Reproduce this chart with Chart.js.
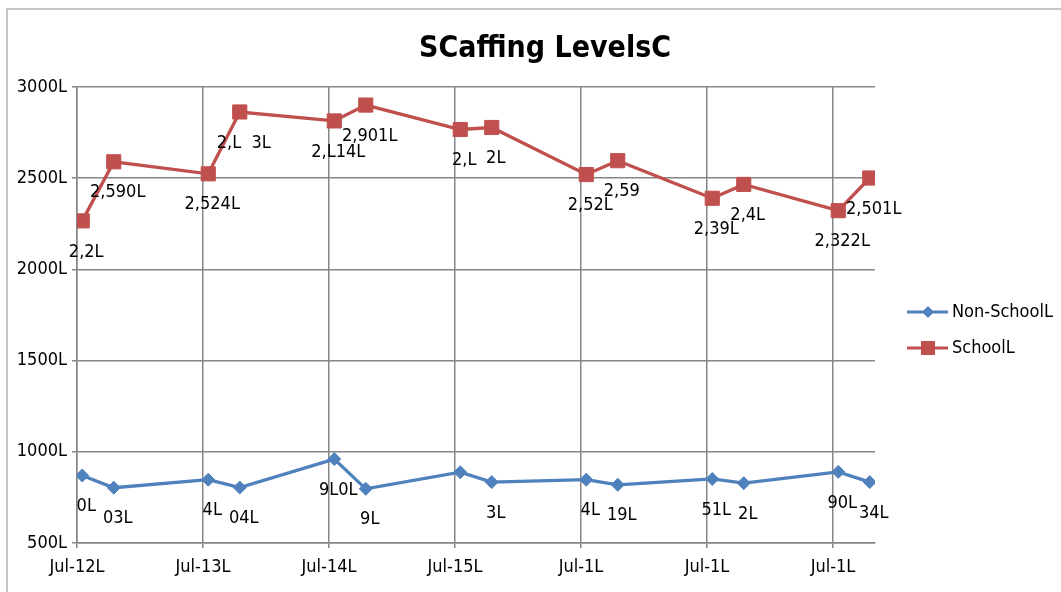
<!DOCTYPE html>
<html>
<head>
    <title>Staffing Levels</title>
    <style>
        body {
            margin: 0;
            background: #ffffff;
        }
        #frame {
            position: absolute;
            left: 6px;
            top: 8px;
            width: 1100px;
            height: 700px;
            border: 2px solid #c6c6c6;
        }
        #chart-container {
            position: absolute;
            left: 0;
            top: 0;
            width: 1061px;
            height: 592px;
        }
    </style>
    <script src="https://cdn.jsdelivr.net/npm/chart.js"></script>
</head>
<body>
    <div id="frame"></div>
    <div id="chart-container">
        <canvas id="chart" width="1061" height="592"></canvas>
    </div>
    <script>
        // two readings a year, mid July and mid October
        const pointDates = [
            '2012-07-16', '2012-10-16', '2013-07-16', '2013-10-16',
            '2014-07-16', '2014-10-16', '2015-07-16', '2015-10-16',
            '2016-07-16', '2016-10-16', '2017-07-16', '2017-10-16',
            '2018-07-16', '2018-10-16'
        ];
        const nonSchool = [870, 803, 847, 804, 960, 797, 888, 834, 847, 819, 851, 828, 890, 834];
        const school = [2266, 2590, 2524, 2863, 2814, 2901, 2767, 2778, 2520, 2596, 2390, 2466, 2322, 2501];

        // labels as they appear on the original (glyphs lost in export)
        const nonSchoolLabels = ['0L', '03L', '4L', '04L', '9L0L', '9L', '', '3L', '4L', '19L', '51L', '2L', '90L', '34L'];
        const schoolLabels = ['2,2L', '2,590L', '2,524L', '2,L  3L', '2,L14L', '2,901L', '2,L', '2L', '2,52L', '2,59', '2,39L', '2,4L', '2,322L', '2,501L'];

        const xTickMonths = [0, 12, 24, 36, 48, 60, 72];
        const xTickLabels = ['Jul-12L', 'Jul-13L', 'Jul-14L', 'Jul-15L', 'Jul-1L', 'Jul-1L', 'Jul-1L'];
        const yTickValues = [500, 1000, 1500, 2000, 2500, 3000];
        const yTickLabels = ['500L', '1000L', '1500L', '2000L', '2500L', '3000L'];

        const titleText = 'SCaffing LevelsC';
        const FONT = "'DejaVu Sans Condensed', 'Liberation Sans Narrow', sans-serif";
        const BLUE = '#4f81bd';
        const RED = '#c0504d';
        const GRID = '#868686';

        // months since July 2012
        function toMonths(d) {
            const p = d.split('-').map(Number);
            return (p[0] - 2012) * 12 + (p[1] - 7) + (p[2] - 1) / 30;
        }
        const xs = pointDates.map(toMonths);

        function drawMarker(c, style, x, y, color) {
            c.fillStyle = color;
            c.beginPath();
            if (style === 'rectRot') {
                c.moveTo(x, y - 6); c.lineTo(x + 6, y); c.lineTo(x, y + 6); c.lineTo(x - 6, y);
            } else {
                c.rect(x - 7, y - 7, 14, 14);
            }
            c.closePath();
            c.fill();
        }

        const extras = {
            id: 'extras',
            afterDatasetsDraw(chart) {
                const c = chart.ctx;
                c.save();
                // point labels, under each point
                c.font = '18px ' + FONT;
                c.fillStyle = '#000';
                c.textAlign = 'center';
                c.textBaseline = 'middle';
                chart.data.datasets.forEach((ds, di) => {
                    chart.getDatasetMeta(di).data.forEach((pt, i) => {
                        const t = ds.pointLabels[i];
                        if (t) c.fillText(t, pt.x + 4, pt.y + 31);
                    });
                });

                // legend
                const lx = chart.chartArea.right + 32;
                const ly = [312, 348];
                chart.data.datasets.forEach((ds, di) => {
                    c.strokeStyle = ds.borderColor;
                    c.lineWidth = 3;
                    c.beginPath();
                    c.moveTo(lx, ly[di]);
                    c.lineTo(lx + 41, ly[di]);
                    c.stroke();
                    drawMarker(c, ds.pointStyle, lx + 21, ly[di], ds.borderColor);
                    c.fillStyle = '#000';
                    c.textAlign = 'left';
                    c.fillText(ds.label, lx + 45, ly[di]);
                });

                // title
                c.font = 'bold 30px ' + FONT;
                c.textAlign = 'center';
                c.textBaseline = 'alphabetic';
                c.fillText(titleText, 545, 57);
                c.restore();
            }
        };

        new Chart(document.getElementById('chart').getContext('2d'), {
            type: 'line',
            data: {
                datasets: [{
                    label: 'Non-SchoolL',
                    data: nonSchool.map((v, i) => ({ x: xs[i], y: v })),
                    pointLabels: nonSchoolLabels,
                    borderColor: BLUE,
                    backgroundColor: BLUE,
                    borderWidth: 3.3,
                    pointStyle: 'rectRot',
                    pointRadius: 6.5,
                    pointBorderWidth: 1
                }, {
                    label: 'SchoolL',
                    data: school.map((v, i) => ({ x: xs[i], y: v })),
                    pointLabels: schoolLabels,
                    borderColor: RED,
                    backgroundColor: RED,
                    borderWidth: 3.3,
                    pointStyle: 'rect',
                    pointRadius: 10,
                    pointBorderWidth: 1
                }]
            },
            options: {
                responsive: false,
                animation: false,
                layout: { padding: { top: 87, right: 186, left: 0, bottom: 0 } },
                plugins: {
                    legend: { display: false },
                    tooltip: { enabled: false }
                },
                scales: {
                    x: {
                        type: 'linear',
                        min: 0,
                        max: 76,
                        afterBuildTicks: scale => {
                            scale.ticks = xTickMonths.map(v => ({ value: v }));
                        },
                        afterFit: scale => { scale.height = 49; },
                        grid: { color: GRID, lineWidth: 1.5, tickLength: 5 },
                        border: { color: GRID, width: 1.5 },
                        ticks: {
                            autoSkip: false,
                            maxRotation: 0,
                            padding: 9,
                            color: '#000',
                            font: { family: FONT, size: 18 },
                            callback: (v, i) => xTickLabels[i]
                        }
                    },
                    y: {
                        min: 500,
                        max: 3000,
                        afterBuildTicks: scale => {
                            scale.ticks = yTickValues.map(v => ({ value: v }));
                        },
                        afterFit: scale => { scale.width = 77; },
                        grid: { color: GRID, lineWidth: 1.5, tickLength: 5 },
                        border: { color: GRID, width: 1.5 },
                        ticks: {
                            padding: 5,
                            color: '#000',
                            font: { family: FONT, size: 18 },
                            callback: (v, i) => yTickLabels[i]
                        }
                    }
                }
            },
            plugins: [extras]
        });
    </script>
</body>
</html>
